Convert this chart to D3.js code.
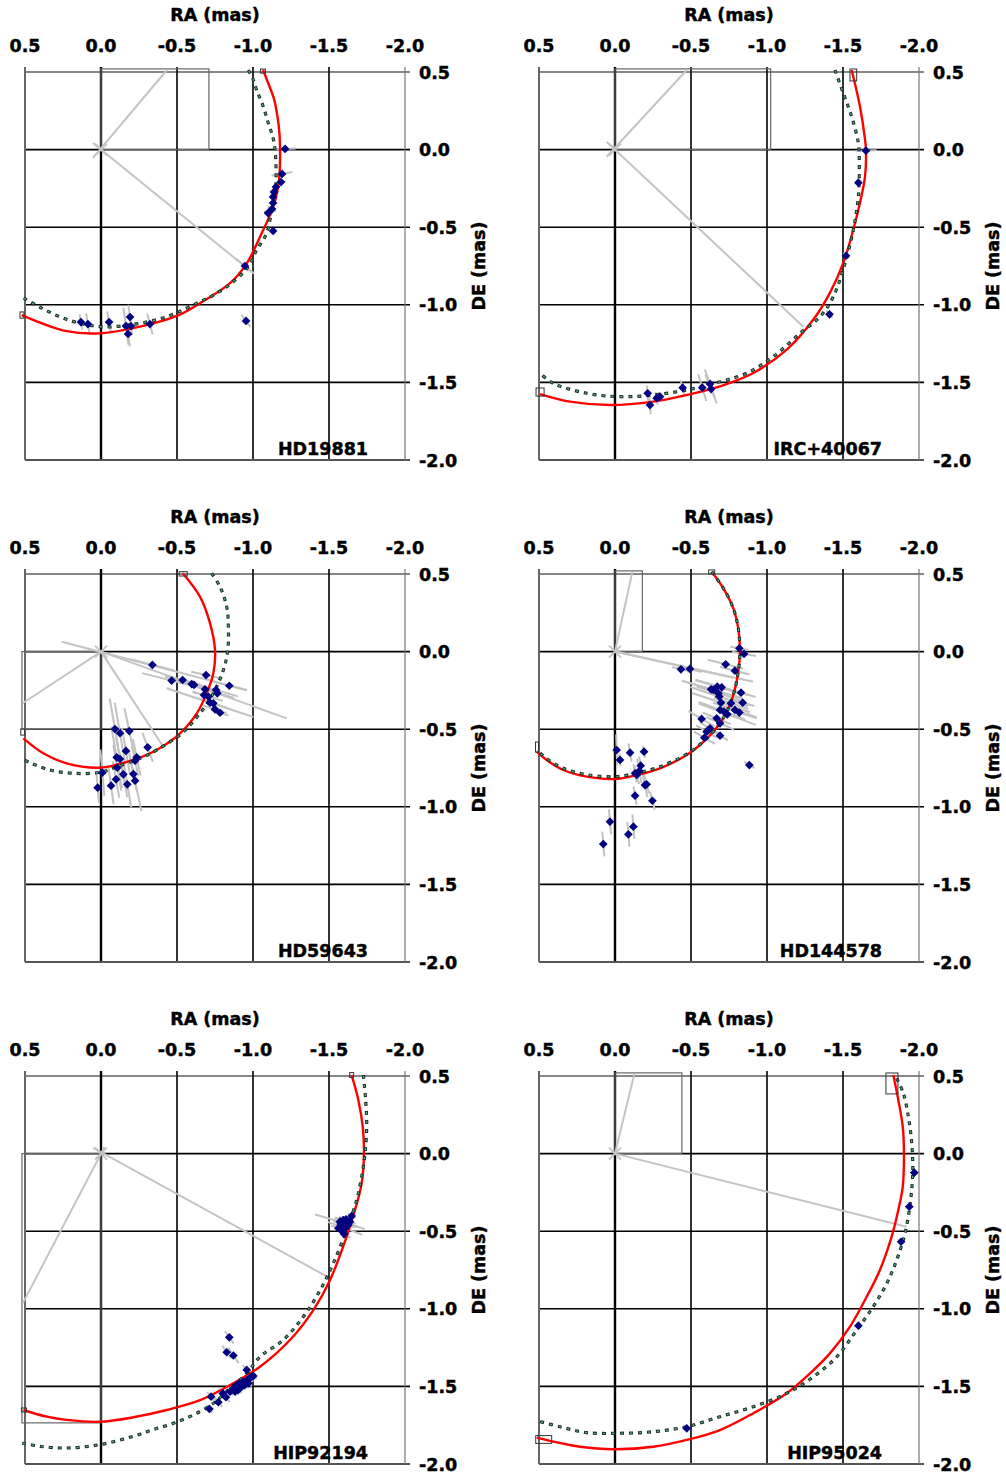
<!DOCTYPE html>
<html>
<head>
<meta charset="utf-8">
<script src="https://cdn.jsdelivr.net/npm/d3@7"></script>
<style>
  html, body { margin: 0; padding: 0; background: #fff; }
  svg text { font-family: "DejaVu Sans", Verdana, sans-serif; font-weight: bold; fill: #000; stroke: #000; stroke-width: 0.45px; }
</style>
</head>
<body>
<svg id="chart" width="1006" height="1475"></svg>
<script>
// ---- axis ticks (mas) ----
const tickValues = [0.5, 0.0, -0.5, -1.0, -1.5, -2.0];
const tickLabels = ["0.5", "0.0", "-0.5", "-1.0", "-1.5", "-2.0"];
const gridValues = [0.0, -0.5, -1.0, -1.5];

const starNames = ["HD19881", "IRC+40067", "HD59643", "HD144578", "HIP92194", "HIP95024"];

// Orbits are [RA, DE] in mas; observations are [RA, DE, error half-length (mas), error PA (deg)]
// Guide lines are [[RA, DE], [RA, DE]]; box corner is [RA, DE]; end markers are [RA, DE, width, height] in mas

// HD19881
const hd19881Orbit = [[-1.066,0.513],[-1.105,0.416],[-1.140,0.320],[-1.163,0.200],[-1.174,0.105],[-1.178,0.0],[-1.177,-0.107],[-1.169,-0.215],[-1.147,-0.325],[-1.107,-0.432],[-1.057,-0.539],[-0.959,-0.733],[-0.849,-0.861],[-0.651,-0.990],[-0.498,-1.072],[-0.257,-1.141],[0.007,-1.184],[0.226,-1.170],[0.522,-1.066]];
const hd19881Prev = [[-0.969,0.513],[-0.998,0.459],[-1.024,0.384],[-1.068,0.276],[-1.101,0.169],[-1.130,0.083],[-1.145,0.0],[-1.151,-0.107],[-1.151,-0.217],[-1.138,-0.325],[-1.116,-0.432],[-1.090,-0.539],[-1.024,-0.647],[-0.969,-0.754],[-0.870,-0.851],[-0.761,-0.926],[-0.651,-0.980],[-0.432,-1.077],[-0.213,-1.126],[0.007,-1.141],[0.226,-1.094],[0.401,-1.016],[0.522,-0.948]];
const hd19881Obs = [[-1.211,0.004,0.07,92],[-1.191,-0.157,0.07,100],[-1.184,-0.209,0.03,100],[-1.151,-0.241,0.02,60],[-1.138,-0.273,0.02,60],[-1.132,-0.305,0.02,60],[-1.132,-0.344,0.02,60],[-1.125,-0.383,0.03,60],[-1.099,-0.409,0.03,60],[-1.132,-0.524,0.02,60],[-0.947,-0.750,0.076,51],[0.132,-1.111,0.05,10],[0.086,-1.124,0.07,10],[-0.053,-1.111,0.07,10],[-0.164,-1.137,0.12,8],[-0.191,-1.079,0.08,8],[-0.197,-1.137,0.06,8],[-0.178,-1.188,0.08,8],[-0.322,-1.124,0.07,15],[-0.954,-1.104,0.05,37]];
const hd19881Lines = [[[0.053,-0.054],[-0.434,0.513]], [[0.053,0.043],[-1.0,-0.795]]];
const hd19881Box = [-0.71, 0.52];
const hd19881Ends = [[-1.066,0.506,0.033,0.026],[0.520,-1.066,0.026,0.04]];

// IRC+40067
const irc40067Orbit = [[-1.557,0.513],[-1.612,0.276],[-1.645,0.064],[-1.651,0.0],[-1.645,-0.172],[-1.612,-0.341],[-1.568,-0.515],[-1.502,-0.730],[-1.414,-0.923],[-1.305,-1.095],[-1.130,-1.289],[-0.910,-1.439],[-0.691,-1.525],[-0.472,-1.581],[-0.252,-1.624],[0.033,-1.646],[0.296,-1.624],[0.493,-1.575]];
const irc40067Prev = [[-1.447,0.513],[-1.502,0.363],[-1.557,0.212],[-1.601,0.041],[-1.607,-0.088],[-1.601,-0.303],[-1.568,-0.515],[-1.513,-0.733],[-1.436,-0.948],[-1.349,-1.077],[-1.217,-1.184],[-1.041,-1.334],[-0.866,-1.441],[-0.691,-1.496],[-0.472,-1.549],[-0.252,-1.581],[-0.033,-1.592],[0.186,-1.570],[0.406,-1.506],[0.493,-1.441]];
const irc40067Obs = [[-1.651,-0.007,0.07,92],[-1.601,-0.213,0.02,60],[-1.520,-0.684,0.025,45],[-1.411,-1.061,0.03,40],[-0.215,-1.570,0.05,5],[-0.230,-1.646,0.06,5],[-0.274,-1.602,0.04,10],[-0.296,-1.592,0.03,10],[-0.445,-1.534,0.05,15],[-0.574,-1.534,0.09,17],[-0.625,-1.510,0.1,20],[-0.632,-1.543,0.1,22]];
const irc40067Lines = [[[0.055,-0.046],[-0.472,0.513]], [[0.055,0.050],[-1.239,-1.141]]];
const irc40067Box = [-1.024, 0.52];
const irc40067Ends = [[-1.568,0.481,0.044,0.077],[0.493,-1.562,0.053,0.052]];

// HD59643
const hd59643Orbit = [[-0.538,0.505],[-0.651,0.354],[-0.717,0.183],[-0.750,0.010],[-0.739,-0.140],[-0.695,-0.269],[-0.630,-0.398],[-0.520,-0.527],[-0.366,-0.634],[-0.213,-0.698],[0.007,-0.748],[0.226,-0.720],[0.380,-0.655],[0.511,-0.559]];
const hd59643Prev = [[-0.728,0.505],[-0.783,0.418],[-0.827,0.289],[-0.838,0.160],[-0.834,0.010],[-0.805,-0.119],[-0.739,-0.269],[-0.651,-0.398],[-0.531,-0.527],[-0.366,-0.634],[-0.257,-0.688],[-0.103,-0.742],[0.007,-0.778],[0.182,-0.784],[0.336,-0.763],[0.467,-0.716],[0.522,-0.688]];
const hd59643Obs = [[-0.338,-0.086,0.15,76],[-0.465,-0.187,0.2,76],[-0.537,-0.183,0.12,76],[-0.597,-0.209,0.18,75],[-0.612,-0.215,0.1,75],[-0.691,-0.151,0.1,78],[-0.684,-0.243,0.2,74],[-0.678,-0.280,0.08,74],[-0.757,-0.247,0.15,74],[-0.765,-0.269,0.1,74],[-0.844,-0.220,0.12,76],[-0.717,-0.329,0.3,72],[-0.739,-0.333,0.1,72],[-0.750,-0.372,0.08,72],[-0.783,-0.394,0.06,72],[-0.706,-0.290,0.1,74],
  [-0.092,-0.499,0.2,10],[-0.125,-0.526,0.2,10],[-0.186,-0.512,0.15,12],[-0.307,-0.617,0.1,20],[-0.164,-0.640,0.15,10],[-0.103,-0.681,0.2,10],[-0.125,-0.692,0.15,10],[-0.235,-0.681,0.12,12],[-0.224,-0.703,0.1,12],[-0.107,-0.748,0.15,10],[-0.147,-0.791,0.15,10],[-0.213,-0.789,0.12,12],[-0.009,-0.780,0.15,5],[-0.099,-0.823,0.12,10],[-0.066,-0.864,0.12,8],[-0.173,-0.855,0.15,10],[-0.224,-0.832,0.2,12],[0.022,-0.877,0.1,5]];
const hd59643Lines = [[[0.259,0.064],[-0.959,-0.247]], [[0,0],[-1.222,-0.430]], [[0,0],[0.515,-0.333]], [[0,0],[-0.410,-0.613]]];
const hd59643Box = [0.52, -0.50];
const hd59643Ends = [[-0.541,0.501,0.053,0.028],[0.515,-0.518,0.026,0.04]];

// HD144578
const hd144578Orbit = [[-0.636,0.515],[-0.713,0.408],[-0.778,0.280],[-0.811,0.150],[-0.822,0.0],[-0.811,-0.130],[-0.778,-0.280],[-0.724,-0.409],[-0.647,-0.517],[-0.559,-0.602],[-0.472,-0.666],[-0.296,-0.752],[-0.143,-0.795],[0.0,-0.821],[0.186,-0.806],[0.340,-0.763],[0.449,-0.699],[0.515,-0.645]];
const hd144578Prev = [[-0.636,0.515],[-0.713,0.408],[-0.778,0.280],[-0.811,0.150],[-0.822,0.0],[-0.811,-0.130],[-0.778,-0.280],[-0.724,-0.409],[-0.647,-0.515],[-0.559,-0.598],[-0.472,-0.660],[-0.296,-0.742],[-0.143,-0.783],[0.0,-0.806],[0.186,-0.793],[0.340,-0.752],[0.449,-0.690],[0.515,-0.632]];
const hd144578Obs = [[-0.818,0.021,0.06,80],[-0.849,-0.015,0.08,80],[-0.728,-0.082,0.12,76],[-0.789,-0.123,0.1,76],[-0.434,-0.114,0.06,76],[-0.493,-0.112,0.08,76],[-0.829,-0.265,0.1,74],[-0.840,-0.329,0.08,74],[-0.632,-0.243,0.2,74],[-0.647,-0.247,0.2,74],[-0.673,-0.226,0.15,74],[-0.702,-0.230,0.18,74],[-0.680,-0.269,0.15,73],[-0.686,-0.290,0.2,72],[-0.763,-0.333,0.12,72],[-0.697,-0.329,0.2,72],[-0.691,-0.376,0.15,70],[-0.717,-0.387,0.15,70],[-0.739,-0.404,0.2,70],[-0.789,-0.376,0.15,72],[-0.818,-0.393,0.12,72],[-0.669,-0.430,0.1,68],[-0.691,-0.462,0.1,66],[-0.570,-0.434,0.1,60],[-0.625,-0.494,0.08,60],[-0.603,-0.516,0.08,60],[-0.588,-0.555,0.08,60],[-0.691,-0.542,0.06,60],[-0.884,-0.731,0.04,60],
  [-0.011,-0.634,0.1,2],[-0.033,-0.698,0.04,5],[-0.099,-0.651,0.06,10],[-0.191,-0.645,0.04,10],[-0.169,-0.735,0.06,10],[-0.160,-0.769,0.08,10],[-0.132,-0.784,0.06,10],[-0.143,-0.795,0.06,15],[-0.197,-0.860,0.08,12],[-0.208,-0.855,0.06,15],[-0.132,-0.928,0.06,10],[-0.246,-0.961,0.06,15],[0.033,-1.096,0.08,5],[-0.121,-1.128,0.08,5],[-0.088,-1.177,0.08,5],[0.077,-1.240,0.08,5]];
const hd144578Lines = [[[0,0],[-0.114,0.515]], [[0,0],[-0.778,-0.168]], [[0,0],[-0.910,-0.194]]];
const hd144578Box = [-0.18, 0.52];
const hd144578Ends = [[-0.636,0.513,0.04,0.026],[0.513,-0.615,0.02,0.065]];

// HIP92194
const hip92194Orbit = [[-1.649,0.506],[-1.693,0.345],[-1.722,0.173],[-1.730,0.002],[-1.715,-0.191],[-1.671,-0.363],[-1.616,-0.535],[-1.507,-0.814],[-1.397,-1.008],[-1.243,-1.201],[-1.046,-1.373],[-0.870,-1.480],[-0.651,-1.589],[-0.432,-1.652],[-0.213,-1.699],[0.007,-1.728],[0.226,-1.716],[0.357,-1.695],[0.511,-1.652]];
const hip92194Prev = [[-1.726,0.506],[-1.741,0.345],[-1.748,0.173],[-1.737,0.002],[-1.715,-0.149],[-1.682,-0.299],[-1.616,-0.493],[-1.528,-0.707],[-1.441,-0.881],[-1.331,-1.051],[-1.199,-1.201],[-1.046,-1.309],[-0.959,-1.416],[-0.849,-1.512],[-0.739,-1.609],[-0.607,-1.684],[-0.476,-1.738],[-0.344,-1.778],[-0.213,-1.821],[0.007,-1.875],[0.226,-1.897],[0.401,-1.886],[0.522,-1.864]];
const hip92194Obs = [[-1.572,-0.439,0.17,74],[-1.594,-0.428,0.06,74],[-1.616,-0.449,0.08,74],[-1.583,-0.471,0.05,74],[-1.605,-0.481,0.12,70],[-1.561,-0.481,0.05,70],[-1.590,-0.503,0.04,70],[-1.627,-0.460,0.05,70],[-1.577,-0.454,0.05,70],[-1.612,-0.423,0.05,70],[-1.638,-0.439,0.04,70],[-1.649,-0.402,0.03,60],[-1.599,-0.518,0.05,60],
  [-0.870,-1.512,0.03,50],[-0.893,-1.491,0.03,50],[-0.914,-1.480,0.03,50],[-0.936,-1.470,0.03,50],[-0.959,-1.459,0.03,50],[-0.980,-1.448,0.03,50],[-1.002,-1.433,0.03,50],[-0.903,-1.523,0.03,50],[-0.882,-1.534,0.03,50],[-0.926,-1.502,0.03,50],[-0.969,-1.480,0.03,50],[-0.947,-1.491,0.03,50],[-0.849,-1.534,0.03,50],[-0.959,-1.394,0.04,40],[-0.991,-1.437,0.03,50],
  [-0.844,-1.184,0.05,35],[-0.827,-1.280,0.05,35],[-0.871,-1.301,0.06,35],[-0.724,-1.566,0.04,40],[-0.772,-1.602,0.04,40],[-0.713,-1.645,0.03,40],[-0.822,-1.570,0.04,40],[-0.801,-1.545,0.04,40]];
const hip92194Lines = [[[0.051,0.037],[-1.485,-0.791]], [[-0.023,0.043],[0.515,-0.965]]];
const hip92194Box = [0.52, -1.735];
const hip92194Ends = [[-1.649,0.506,0.026,0.032],[0.507,-1.652,0.033,0.026]];

// HIP95024
const hip95024Orbit = [[-1.831,0.506],[-1.864,0.345],[-1.893,0.173],[-1.901,0.002],[-1.893,-0.214],[-1.864,-0.363],[-1.820,-0.535],[-1.743,-0.750],[-1.656,-0.922],[-1.546,-1.115],[-1.414,-1.287],[-1.283,-1.416],[-1.130,-1.544],[-0.910,-1.673],[-0.691,-1.781],[-0.472,-1.845],[-0.252,-1.889],[0.011,-1.905],[0.230,-1.889],[0.406,-1.856],[0.515,-1.830]];
const hip95024Prev = [[-1.853,0.485],[-1.897,0.389],[-1.930,0.238],[-1.952,0.066],[-1.959,-0.106],[-1.945,-0.299],[-1.908,-0.514],[-1.853,-0.686],[-1.788,-0.836],[-1.699,-0.986],[-1.590,-1.137],[-1.459,-1.309],[-1.305,-1.438],[-1.130,-1.544],[-0.910,-1.631],[-0.691,-1.695],[-0.472,-1.760],[-0.252,-1.792],[-0.033,-1.802],[0.186,-1.798],[0.362,-1.760],[0.515,-1.721]];
const hip95024Obs = [[-1.969,-0.123,0.02,90],[-1.936,-0.342,0.02,90],[-1.882,-0.568,0.02,60],[-1.601,-1.109,0.02,45],[-0.472,-1.770,0.02,0]];
const hip95024Lines = [[[0,0],[-0.127,0.513]], [[0,0],[-1.919,-0.471]]];
const hip95024Box = [-0.44, 0.52];
const hip95024Ends = [[-1.822,0.452,0.079,0.135],[0.469,-1.842,0.105,0.05]];

// ---- panel table built from the arrays above ----
const panels = [
  { name: starNames[0], orbit: hd19881Orbit,  prev: hd19881Prev,  obs: hd19881Obs,  lines: hd19881Lines,  box: hd19881Box,  ends: hd19881Ends },
  { name: starNames[1], orbit: irc40067Orbit, prev: irc40067Prev, obs: irc40067Obs, lines: irc40067Lines, box: irc40067Box, ends: irc40067Ends },
  { name: starNames[2], orbit: hd59643Orbit,  prev: hd59643Prev,  obs: hd59643Obs,  lines: hd59643Lines,  box: hd59643Box,  ends: hd59643Ends },
  { name: starNames[3], orbit: hd144578Orbit, prev: hd144578Prev, obs: hd144578Obs, lines: hd144578Lines, box: hd144578Box, ends: hd144578Ends },
  { name: starNames[4], orbit: hip92194Orbit, prev: hip92194Prev, obs: hip92194Obs, lines: hip92194Lines, box: hip92194Box, ends: hip92194Ends },
  { name: starNames[5], orbit: hip95024Orbit, prev: hip95024Prev, obs: hip95024Obs, lines: hip95024Lines, box: hip95024Box, ends: hip95024Ends }
];

// ---- layout ----
const colLeft = [25, 539];
const rowTop = [72, 574, 1076];
const plotW = 380, plotH = 388;
const tick = 5;
const fontSize = 17.5;

const svg = d3.select("#chart");
svg.append("rect").attr("width", 1006).attr("height", 1475).attr("fill", "#fff");

panels.forEach((p, i) => {
  const left = colLeft[i % 2], top = rowTop[Math.floor(i / 2)];
  const right = left + plotW, bottom = top + plotH;
  const x = d3.scaleLinear().domain([0.5, -2.0]).range([left, right]);
  const y = d3.scaleLinear().domain([0.5, -2.0]).range([top, bottom]);
  const g = svg.append("g");

  // interior grid
  g.selectAll(".gx").data(gridValues).join("line")
    .attr("x1", d => x(d)).attr("x2", d => x(d))
    .attr("y1", top - tick).attr("y2", bottom)
    .attr("stroke", "#000").attr("stroke-width", d => d === 0 ? 2.4 : 1.6);
  g.selectAll(".gy").data(gridValues).join("line")
    .attr("x1", left).attr("x2", right + tick)
    .attr("y1", d => y(d)).attr("y2", d => y(d))
    .attr("stroke", "#000").attr("stroke-width", 1.6);

  // frame
  g.append("line").attr("x1", left).attr("x2", right + tick).attr("y1", y(0.5)).attr("y2", y(0.5))
    .attr("stroke", "#111").attr("stroke-width", 1.2);
  g.append("line").attr("x1", left).attr("x2", right + tick).attr("y1", y(-2.0)).attr("y2", y(-2.0))
    .attr("stroke", "#555").attr("stroke-width", 2);
  g.append("line").attr("x1", x(0.5)).attr("x2", x(0.5)).attr("y1", top - tick).attr("y2", bottom)
    .attr("stroke", "#666").attr("stroke-width", 2);
  g.append("line").attr("x1", x(-2.0)).attr("x2", x(-2.0)).attr("y1", top - tick).attr("y2", bottom)
    .attr("stroke", "#777").attr("stroke-width", 1.2);

  // axis tick labels
  g.selectAll(".tx").data(tickValues).join("text")
    .attr("x", d => x(d)).attr("y", top - 20)
    .attr("text-anchor", "middle").attr("font-size", fontSize)
    .text((d, k) => tickLabels[k]);
  g.selectAll(".ty").data(tickValues).join("text")
    .attr("x", right + 14).attr("y", d => y(d) + 6.5)
    .attr("font-size", fontSize)
    .text((d, k) => tickLabels[k]);

  // axis titles
  g.append("text").attr("x", (left + right) / 2).attr("y", top - 51)
    .attr("text-anchor", "middle").attr("font-size", fontSize).text("RA (mas)");
  g.append("text")
    .attr("transform", `translate(${right + 80},${(top + bottom) / 2}) rotate(-90)`)
    .attr("text-anchor", "middle").attr("font-size", fontSize).text("DE (mas)");

  // box from the primary
  const bx = [x(0), x(p.box[0])], by = [y(0), y(p.box[1])];
  g.append("rect")
    .attr("x", d3.min(bx)).attr("y", d3.min(by))
    .attr("width", Math.abs(bx[1] - bx[0])).attr("height", Math.abs(by[1] - by[0]))
    .attr("fill", "none").attr("stroke", "#666").attr("stroke-width", 1.2);

  // guide lines through the primary
  g.selectAll(".guide").data(p.lines).join("line")
    .attr("x1", d => x(d[0][0])).attr("y1", d => y(d[0][1]))
    .attr("x2", d => x(d[1][0])).attr("y2", d => y(d[1][1]))
    .attr("stroke", "#c4c4c4").attr("stroke-width", 2);

  // primary marker
  g.append("path")
    .attr("transform", `translate(${x(0)},${y(0)})`)
    .attr("d", "M-6,-6L6,6M-6,6L6,-6")
    .attr("stroke", "#c4c4c4").attr("stroke-width", 2).attr("fill", "none");

  // error bars
  const rad = Math.PI / 180;
  g.selectAll(".err").data(p.obs).join("line")
    .attr("x1", d => x(d[0] + d[2] * Math.sin(d[3] * rad)))
    .attr("y1", d => y(d[1] + d[2] * Math.cos(d[3] * rad)))
    .attr("x2", d => x(d[0] - d[2] * Math.sin(d[3] * rad)))
    .attr("y2", d => y(d[1] - d[2] * Math.cos(d[3] * rad)))
    .attr("stroke", "#c2c2c2").attr("stroke-width", 2);

  const line = d3.line().x(d => x(d[0])).y(d => y(d[1])).curve(d3.curveCatmullRom.alpha(0.5));

  // fitted orbit
  g.append("path").attr("d", line(p.orbit))
    .attr("fill", "none").attr("stroke", "#ff0000").attr("stroke-width", 2.4);

  // earlier orbit (dotted)
  g.append("path").attr("d", line(p.prev))
    .attr("fill", "none").attr("stroke", "#1b3327").attr("stroke-width", 3.2)
    .attr("stroke-dasharray", "4,5");
  g.append("path").attr("d", line(p.prev))
    .attr("fill", "none").attr("stroke", "#5fae8a").attr("stroke-width", 1.2)
    .attr("stroke-dasharray", "2,7").attr("stroke-dashoffset", -1);

  // orbit end markers
  g.selectAll(".end").data(p.ends).join("rect")
    .attr("x", d => x(d[0] + d[2] / 2)).attr("y", d => y(d[1] + d[3] / 2))
    .attr("width", d => x(d[0] - d[2] / 2) - x(d[0] + d[2] / 2))
    .attr("height", d => y(d[1] - d[3] / 2) - y(d[1] + d[3] / 2))
    .attr("fill", "none").attr("stroke", "#333").attr("stroke-width", 1);

  // observations
  const diamond = d3.symbol(d3.symbolSquare, 38);
  g.selectAll(".obs").data(p.obs).join("path")
    .attr("transform", d => `translate(${x(d[0])},${y(d[1])}) rotate(45)`)
    .attr("d", diamond)
    .attr("fill", "#000080");

  // star name
  g.append("text").attr("x", left + 343).attr("y", bottom - 5)
    .attr("text-anchor", "end").attr("font-size", fontSize).text(p.name);
});
</script>
</body>
</html>
